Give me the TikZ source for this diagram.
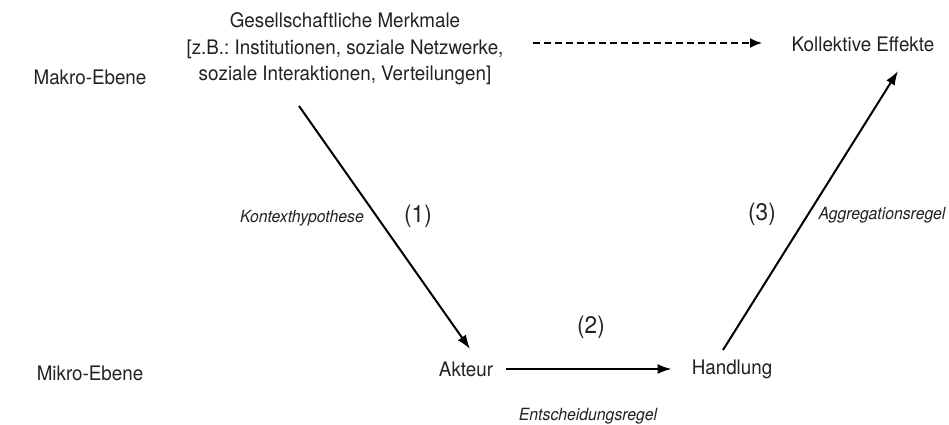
\documentclass[tikz,border=0pt]{standalone}
\usepackage{fontspec}
\setmainfont{TeX Gyre Heros}[FakeStretch=0.94]
\usetikzlibrary{arrows.meta,calc}
\definecolor{txt}{HTML}{222222}
\frenchspacing
\tikzset{
  lbl/.style={text=txt, inner sep=0pt, font=\fontsize{20}{26.5}\selectfont, align=center},
  rule/.style={text=txt, inner sep=0pt, font=\fontsize{16.8}{18}\selectfont\itshape},
  num/.style={text=txt, inner sep=0pt, font=\fontsize{24}{26}\selectfont},
  arr/.style={line width=2pt, -{Latex[length=14pt,width=10pt]}},
}
\begin{document}
\begin{tikzpicture}[x=1pt,y=-1pt]
\useasboundingbox[fill=white] (0,0) rectangle (949,425);
\node[lbl] (makro) at (90,77) {Makro-Ebene};
\node[lbl] (mikro) at (90,373) {Mikro-Ebene};
\node[lbl] (gm) at (345,49) {Gesellschaftliche Merkmale\\{}[z.B.: Institutionen, soziale Netzwerke,\\soziale Interaktionen, Verteilungen]};
\node[lbl] (ke) at (863,44) {Kollektive Effekte};
\node[lbl] (ak) at (466,369) {Akteur};
\node[lbl] (hd) at (732,369) {Handlung};
\coordinate (a1s) at (299,106);
\coordinate (a1e) at (470,349);
\coordinate (a3s) at (723,350);
\coordinate (a3e) at (898,71);
\coordinate (d1) at (533,43);
\coordinate (d2) at (762,43);
\draw[arr] (a1s) -- (a1e);
\draw[arr] ($(ak.east)+(13,0)$) -- ($(hd.west)+(-20,0)$);
\draw[arr] (a3s) -- (a3e);
\draw[line width=1.6pt, dash pattern=on 7pt off 4pt, -{Latex[length=12pt,width=10pt]}] (d1) -- (d2);
\node[rule] (kh) at (302,218) {Kontexthypothese};
\node[rule] (ag) at (882,215) {Aggregationsregel};
\node[rule] (er) at (588,416) {Entscheidungsregel};
\node[num] (n1) at (418,216) {(1)};
\node[num] (n2) at (591,327) {(2)};
\node[num] (n3) at (762,214) {(3)};
\end{tikzpicture}
\end{document}
